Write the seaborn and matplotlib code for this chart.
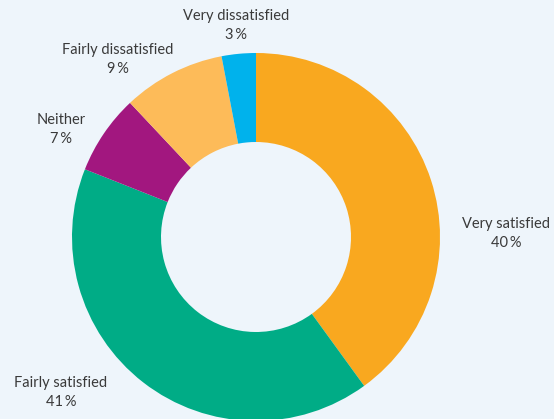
import matplotlib
matplotlib.use("Agg")
import matplotlib.pyplot as plt
import seaborn as sns

# ---- data ----
categories = ["Very satisfied", "Fairly satisfied", "Neither",
              "Fairly dissatisfied", "Very dissatisfied"]
values = [40, 41, 7, 9, 3]
pct_labels = ["40\u2009%", "41\u2009%", "7\u2009%", "9\u2009%", "3\u2009%"]

# ---- style ----
colors = ["#F9A81F", "#00AC86", "#A2177F", "#FDBB59", "#00B2EC"]
bg = "#EEF5FB"
text_color = "#3A3A3A"

sns.set_theme(style="white")
plt.rcParams["font.family"] = ["Lato", "DejaVu Sans"]

W, H = 554, 419
fig = plt.figure(figsize=(W / 100, H / 100), dpi=100, facecolor=bg)
ax = fig.add_axes([0, 0, 1, 1])
ax.set_facecolor(bg)

palette = sns.color_palette(colors)
cx, cy = 256, H - 237
r_out, r_in = 184, 95
ax.pie(values, colors=palette, startangle=90, counterclock=False,
       center=(cx, cy), radius=r_out,
       wedgeprops=dict(width=r_out - r_in, linewidth=0, edgecolor="none"))

ax.set_xlim(0, W)
ax.set_ylim(0, H)
ax.set_aspect("auto")
ax.axis("off")

# label positions in pixel coordinates (x center, y of first line)
label_pos = {
    "Very satisfied": (506, 224),
    "Fairly satisfied": (61, 383),
    "Neither": (61, 120),
    "Fairly dissatisfied": (118, 50),
    "Very dissatisfied": (236, 16),
}
for cat, pct in zip(categories, pct_labels):
    x, y = label_pos[cat]
    ax.text(x, H - y, cat, ha="center", va="center", fontsize=10.5,
            color=text_color)
    ax.text(x, H - y - 19, pct, ha="center", va="center", fontsize=10.5,
            color=text_color)

fig.savefig("out.png", dpi=100, facecolor=bg)
